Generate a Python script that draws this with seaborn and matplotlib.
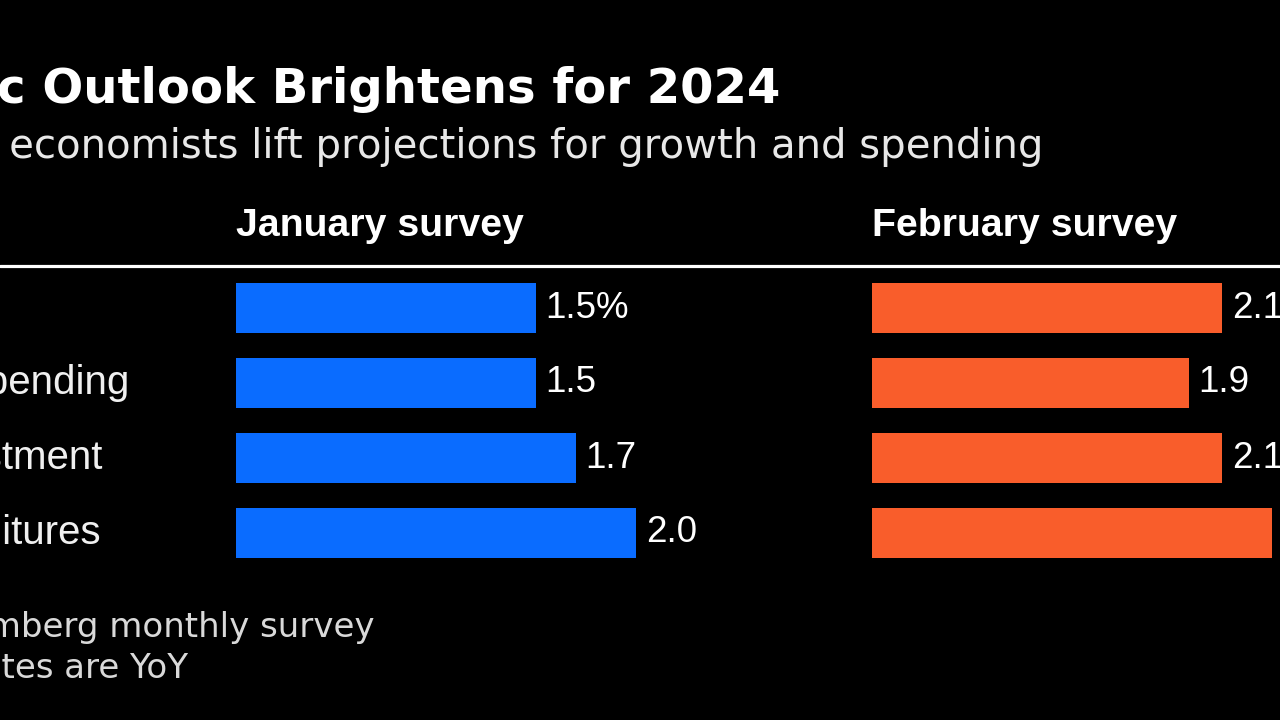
import matplotlib
matplotlib.use("Agg")
import matplotlib.pyplot as plt
import matplotlib.transforms as mtransforms
from matplotlib.lines import Line2D
import pandas as pd
import seaborn as sns

# ---------------------------
# DATA
# ---------------------------
categories = ["GDP", "Government spending", "Business investment", "Capital expenditures"]
january = [1.5, 1.5, 1.7, 2.0]
february = [2.1, 1.9, 2.1, 2.4]
panel_titles = ["January survey", "February survey"]

title = "US Economic Outlook Brightens for 2024"
subtitle = "Bloomberg-surveyed economists lift projections for growth and spending"
footer = ["Source: Bloomberg monthly survey", "Note: Rates are YoY"]

BLUE = "#0A6CFF"
ORANGE = "#F95D2B"
BG = "black"

sns.set_theme(style="dark")
plt.rcParams["font.family"] = ["DejaVu Sans"]

W, H = 1280, 720
fig = plt.figure(figsize=(12.8, 7.2), dpi=100, facecolor=BG)


def fx(px):
    return px / W


def fy(py):
    return 1 - py / H


# ---------------------------
# TITLES
# ---------------------------
fig.text(fx(780), fy(103), title, ha="right", va="baseline",
         fontsize=34.7, fontweight="bold", color="white")
fig.text(fx(1043), fy(158), subtitle, ha="right", va="baseline",
         fontsize=29, color="#e8e8e8")

# ---------------------------
# PANELS
# ---------------------------
panels = [(january, BLUE, 236), (february, ORANGE, 872)]
axes = []
for (vals, color, left), name in zip(panels, panel_titles):
    ax = fig.add_axes([fx(left), fy(570.5), fx(400), 300 / H])
    df = pd.DataFrame({"cat": categories, "val": vals})
    sns.barplot(data=df, x="val", y="cat", color=color, width=0.66,
                saturation=1, orient="h", linewidth=0, ax=ax)
    ax.set_xlim(0, max(vals))
    ax.set_facecolor(BG)
    ax.axis("off")
    labels = [f"{v:.1f}%" if i == 0 else f"{v:.1f}" for i, v in enumerate(vals)]
    ax.bar_label(ax.containers[0], labels=labels, padding=7, color="white",
                 fontsize=26.5, family="Liberation Sans", clip_on=False)
    fig.text(fx(left), fy(236), name, ha="left", va="baseline", fontsize=28.3,
             fontweight="bold", family="Liberation Sans", color="white")
    axes.append(ax)

# row labels (left-aligned, partly off the left edge)
trans = mtransforms.blended_transform_factory(fig.transFigure, axes[0].transData)
for i, cat in enumerate(categories):
    axes[0].text(fx(-267), i, cat, transform=trans, ha="left", va="center",
                 fontsize=29, family="Liberation Sans", color="#f0f0f0")

# divider line
fig.add_artist(Line2D([0, 1], [fy(266), fy(266)], transform=fig.transFigure,
                      color="white", lw=2.3))

# ---------------------------
# FOOTER
# ---------------------------
fig.text(fx(375), fy(637), footer[0], ha="right", va="baseline",
         fontsize=24.5, color="#d9d9d9")
fig.text(fx(188), fy(678), footer[1], ha="right", va="baseline",
         fontsize=24.5, color="#d9d9d9")

fig.savefig("out.png", dpi=100, facecolor=BG)
